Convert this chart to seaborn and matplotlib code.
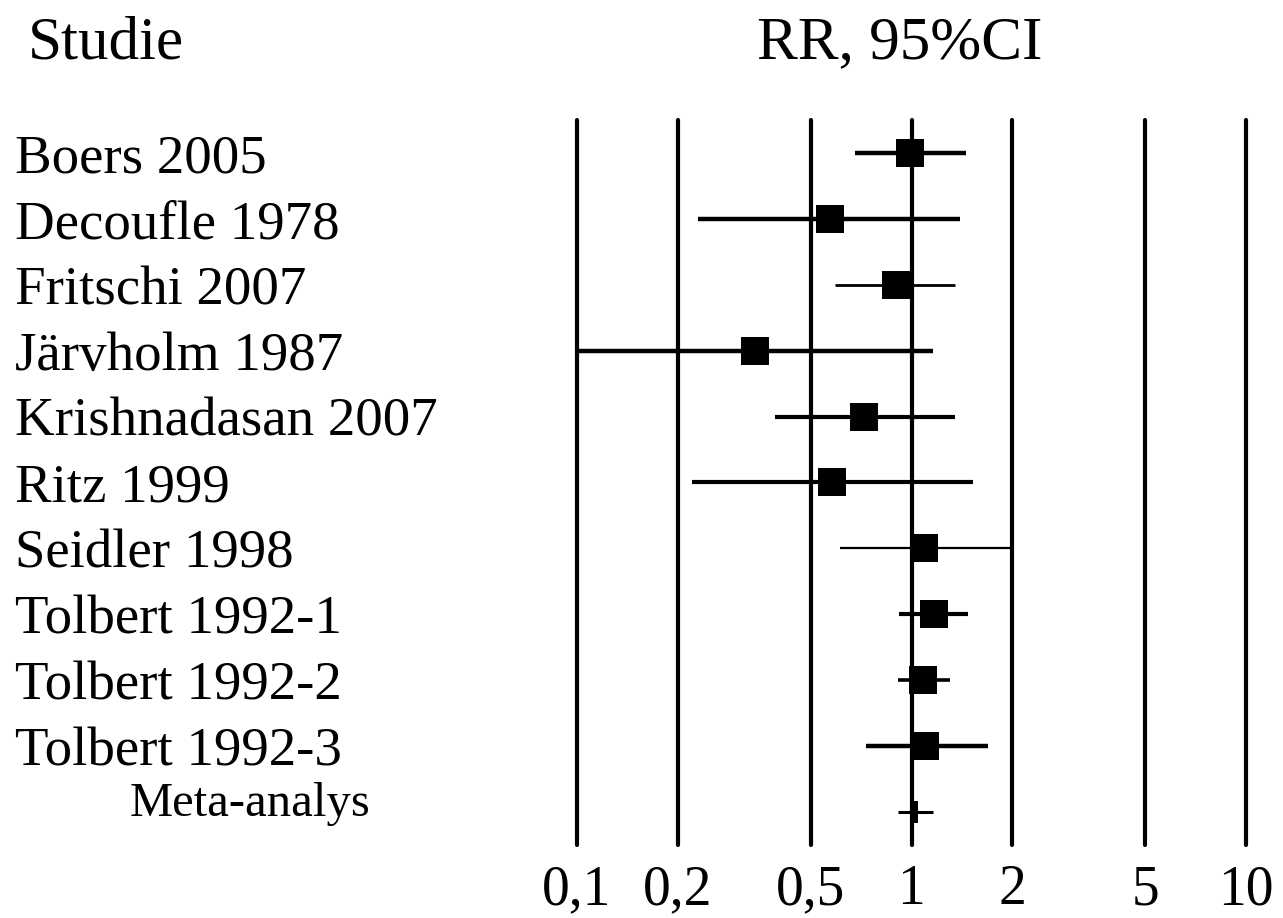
import numpy as np
import pandas as pd
import matplotlib
matplotlib.use("Agg")
import matplotlib.pyplot as plt
import seaborn as sns

studies = ["Boers 2005", "Decoufle 1978", "Fritschi 2007", "Järvholm 1987",
           "Krishnadasan 2007", "Ritz 1999", "Seidler 1998", "Tolbert 1992-1",
           "Tolbert 1992-2", "Tolbert 1992-3"]
rr = [0.99, 0.57, 0.90, 0.34, 0.72, 0.58, 1.09, 1.17, 1.08, 1.10]
ci_low = [0.68, 0.23, 0.59, 0.10, 0.39, 0.22, 0.61, 0.92, 0.91, 0.73]
ci_high = [1.46, 1.40, 1.35, 1.16, 1.35, 1.53, 1.98, 1.48, 1.30, 1.69]

meta_label = "Meta-analys"
meta_rr = [1.02]
meta_low = [0.91]
meta_high = [1.16]

grid_values = [0.1, 0.2, 0.5, 1, 2, 5, 10]
tick_labels = ["0,1", "0,2", "0,5", "1", "2", "5", "10"]

header_left = "Studie"
header_right = "RR, 95%CI"

df = pd.DataFrame({"study": studies, "rr": rr, "lo": ci_low, "hi": ci_high})
df["pos"] = np.arange(len(df))
meta = pd.DataFrame({"rr": meta_rr, "lo": meta_low, "hi": meta_high})
meta["pos"] = len(df)

sns.set_theme(style="white")
plt.rcParams["font.family"] = ["Liberation Serif", "DejaVu Serif"]
plt.rcParams["text.color"] = "black"
plt.rcParams["xtick.color"] = "black"

W, H = 1283, 918
fig = plt.figure(figsize=(W / 100, H / 100), dpi=100)
ax = fig.add_axes([577 / W, 1 - 845 / H, (1246 - 577) / W, (845 - 120) / H])
ax.set_xscale("log")
ax.set_xlim(0.1, 10)
ax.set_ylim(len(df) + 0.5, -0.5)

# vertical reference lines
for v in grid_values:
    ax.axvline(v, color="black", lw=3.0, clip_on=False, zorder=1)

# confidence intervals
line_w = [3.2, 3.2, 2.0, 3.2, 3.0, 3.0, 1.6, 3.0, 2.6, 3.2]
for (_, r), lw in zip(df.iterrows(), line_w):
    ax.hlines(r["pos"], r["lo"], r["hi"], color="black", lw=lw, zorder=2, clip_on=False)
ax.hlines(meta["pos"], meta["lo"], meta["hi"], color="black", lw=2.2, zorder=2)

# point estimates
sns.scatterplot(data=df, x="rr", y="pos", marker="s", s=420, color="black",
                linewidth=0, ax=ax, zorder=3, legend=False)
rect = [(-0.17, -0.5), (0.17, -0.5), (0.17, 0.5), (-0.17, 0.5), (-0.17, -0.5)]
sns.scatterplot(data=meta, x="rr", y="pos", marker=rect, s=230, color="black",
                linewidth=0, ax=ax, zorder=3, legend=False)

ax.set_xticks(grid_values)
ax.set_xticklabels(tick_labels, fontsize=40, color="black")
ax.xaxis.set_minor_locator(matplotlib.ticker.NullLocator())
ax.tick_params(axis="x", length=0, pad=14)
ax.set_yticks([])
ax.set_xlabel("")
ax.set_ylabel("")
for s in ax.spines.values():
    s.set_visible(False)
ax.grid(False)

# study labels
trans = matplotlib.transforms.blended_transform_factory(fig.transFigure, ax.transData)
for _, r in df.iterrows():
    ax.text(15 / W, r["pos"], r["study"], transform=trans, fontsize=39.5,
            ha="left", va="center_baseline", color="black")
ax.text(130 / W, meta["pos"].iloc[0] - 0.2, meta_label, transform=trans, fontsize=35,
        ha="left", va="center_baseline", color="black")

fig.text(28 / W, 1 - 37 / H, header_left, fontsize=44, ha="left",
         va="center_baseline", color="black")
fig.text(900 / W, 1 - 37 / H, header_right, fontsize=44, ha="center",
         va="center_baseline", color="black")

fig.savefig("out.png", dpi=100, facecolor="white")
